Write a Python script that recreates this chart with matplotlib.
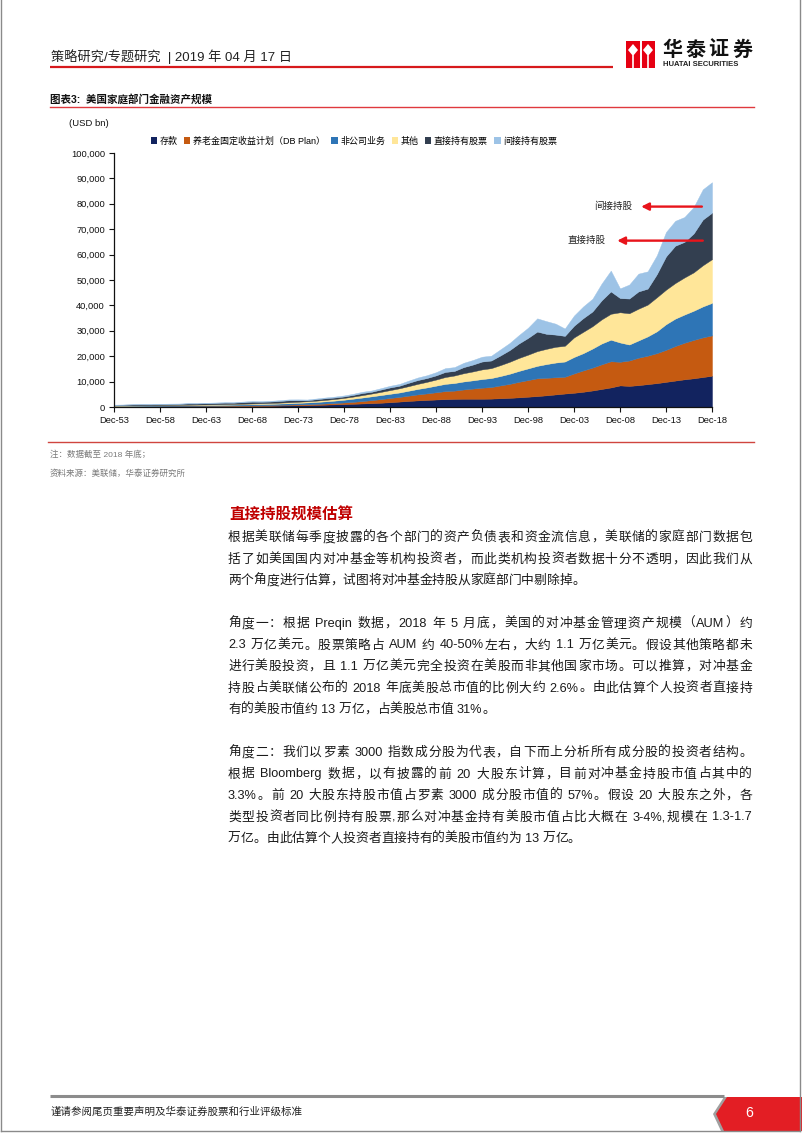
import matplotlib
matplotlib.use('Agg')
import matplotlib.pyplot as plt
import numpy as np
from matplotlib.patches import Patch, Polygon, Rectangle
from matplotlib.font_manager import FontProperties

FAMILY = ['Liberation Sans', 'Noto Sans CJK SC', 'DejaVu Sans']
plt.rcParams['font.family'] = FAMILY

W, H = 802, 1133

# ---------------------------------------------------
# data (USD bn, year-end values)
years = list(range(1953, 2019))
deposits = [160, 170, 180, 190, 200, 215, 230, 245, 265, 285,
            310, 335, 360, 385, 410, 440, 470, 510, 570, 640,
            700, 760, 840, 940, 1050, 1160, 1270, 1390, 1520, 1680,
            1880, 2130, 2380, 2600, 2780, 2950, 3100, 3200, 3250, 3250,
            3250, 3300, 3450, 3600, 3800, 4050, 4300, 4600, 4950, 5300,
            5600, 6000, 6500, 7100, 7700, 8500, 8300, 8600, 9000, 9400,
            9900, 10400, 10900, 11300, 11800, 12300]
db_plan = [100, 110, 120, 125, 130, 135, 140, 145, 150, 155,
           160, 170, 180, 185, 200, 220, 230, 250, 270, 290,
           320, 340, 380, 440, 510, 620, 760, 960, 1180, 1420,
           1670, 1820, 2070, 2350, 2570, 2850, 3150, 3250, 3650, 4000,
           4350, 4550, 5050, 5500, 6100, 6550, 7000, 6900, 6750, 6600,
           7600, 8400, 9000, 9700, 10300, 9300, 10000, 10800, 11200, 11800,
           12600, 13600, 14400, 15100, 15600, 15900]
noncorp = [220, 230, 240, 255, 270, 280, 290, 300, 310, 320,
           330, 340, 355, 380, 400, 420, 460, 490, 510, 540,
           610, 700, 770, 850, 960, 1080, 1250, 1380, 1500, 1600,
           1650, 1750, 1950, 2150, 2350, 2600, 2850, 3000, 3150, 3250,
           3400, 3550, 3700, 4000, 4300, 4600, 4900, 5400, 5800, 6000,
           6500, 6800, 7500, 8200, 8500, 7600, 6300, 6800, 7600, 8600,
           10100, 10800, 11100, 11500, 12200, 12800]
others = [100, 110, 120, 130, 130, 140, 150, 160, 175, 190,
          210, 230, 250, 265, 280, 300, 320, 340, 370, 410,
          440, 460, 510, 570, 640, 720, 820, 950, 1100, 1250,
          1450, 1650, 1800, 2000, 2200, 2400, 2700, 2950, 3250, 3500,
          3800, 3900, 4300, 4700, 5100, 5400, 5800, 6000, 6200, 6200,
          7700, 8400, 8800, 9500, 10200, 11900, 12300, 12500, 12500, 13400,
          13600, 14000, 14600, 15100, 16200, 17200]
direct_equity = [240, 280, 320, 310, 270, 370, 390, 380, 470, 410,
                 470, 515, 565, 485, 610, 720, 590, 560, 660, 760,
                 580, 390, 570, 640, 580, 570, 660, 820, 700, 900,
                 1050, 1000, 1300, 1500, 1500, 1650, 2000, 1800, 2400, 2700,
                 3100, 3000, 3800, 4600, 5700, 6600, 7700, 5900, 4800, 3900,
                 4600, 5400, 5800, 7500, 8800, 5600, 5800, 6800, 6300, 9100,
                 13100, 14700, 14000, 15300, 18000, 18300]
indirect_equity = [80, 90, 90, 100, 100, 110, 120, 130, 140, 140,
                   160, 180, 190, 200, 230, 260, 260, 270, 300, 340,
                   350, 300, 280, 310, 360, 400, 440, 500, 500, 550,
                   650, 700, 850, 1000, 1100, 1250, 1500, 1500, 1700, 1800,
                   1900, 1900, 2400, 2800, 3300, 4000, 5200, 5000, 4300, 2900,
                   4000, 4600, 5000, 6600, 8200, 3800, 5500, 7000, 6800, 7400,
                   9600, 9800, 9800, 10400, 11900, 12000]

series_labels = ['存款', '养老金固定收益计划（DB Plan）', '非公司业务', '其他',
                 '直接持有股票', '间接持有股票']
series_colors = ['#12235f', '#c55a11', '#2e75b6', '#ffe699', '#333f50', '#9dc3e6']
xtick_years = list(range(1953, 2019, 5))
xtick_labels = ['Dec-%02d' % (y % 100) for y in xtick_years]
ytick_values = list(range(0, 100001, 10000))

# ---------------------------------------------------

def pt(px):
    return px * 0.72

fig = plt.figure(figsize=(W / 100, H / 100), dpi=100)
page = fig.add_axes([0, 0, 1, 1])
page.set_xlim(0, W)
page.set_ylim(H, 0)
page.axis('off')
renderer = fig.canvas.get_renderer()

_cache = {}
def text_w(s, prop):
    key = (s, prop.get_size_in_points(), prop.get_weight())
    if key not in _cache:
        _cache[key] = renderer.get_text_width_height_descent(s, prop, ismath=False)[0]
    return _cache[key]

def advance(u, prop):
    return text_w('国' + u + '国', prop) - text_w('国国', prop)

def split_units(s):
    out, buf = [], ''
    for ch in s:
        if ord(ch) < 128 and ch != ' ':
            buf += ch
        else:
            if buf:
                out.append(buf)
                buf = ''
            out.append(ch)
    if buf:
        out.append(buf)
    return out

def put_line(s, x0, x1, y, size_px, color='#1a1a1a', justify=True, weight='normal'):
    prop = FontProperties(family=FAMILY, size=pt(size_px), weight=weight)
    units = split_units(s)
    ws = [advance(u, prop) for u in units]
    gap = 0
    if justify and len(units) > 1:
        gap = (x1 - x0 - sum(ws)) / (len(units) - 1)
    x = x0
    for u, w in zip(units, ws):
        if u != ' ':
            page.text(x, y, u, fontproperties=prop, color=color, va='center', ha='left')
        x += w + gap

# page frame
page.plot([1, 1], [0, 1131], color='#8a8a8a', lw=1)
page.plot([800, 800], [0, 1131], color='#8a8a8a', lw=1)
page.plot([1, 800], [1131, 1131], color='#8a8a8a', lw=1)

# header
page.text(51, 57, '策略研究/专题研究  | 2019 年 04 月 17 日', fontsize=pt(13.2),
          va='center', color='#222222')
page.plot([50, 613], [67, 67], color='#d7191c', lw=1.6, solid_capstyle='butt')
page.add_patch(Rectangle((626, 41), 29, 27, color='#e60012', lw=0))
for cx in (633, 648):
    page.add_patch(Polygon([[cx - 5, 50], [cx, 44], [cx + 5, 50], [cx, 56]], color='white', lw=0))
    page.plot([cx, cx], [56, 68], color='white', lw=1.2)
page.plot([640.5, 640.5], [41, 68], color='white', lw=1.4)
put_line('华泰证券', 662, 752, 50, 20, color='#111111', weight='bold')
page.text(663, 64.5, 'HUATAI SECURITIES', fontsize=pt(7.6), fontweight='bold',
          va='center', ha='left', color='#222222')

# chart title
page.text(50, 99, '图表3:  美国家庭部门金融资产规模', fontsize=pt(10.5), fontweight='bold',
          va='center', color='#111111')
page.plot([50, 754], [106.5, 106.5], color='#e0393e', lw=1)
page.text(69, 123, '(USD bn)', fontsize=pt(9.5), va='center', color='#111111')

# chart
ax = fig.add_axes([114 / W, 1 - 407 / H, (712 - 114) / W, (407 - 153) / H])
x = np.array(years)
layers = [deposits, db_plan, noncorp, others, direct_equity, indirect_equity]
base = np.zeros(len(years))
for vals, col in zip(layers, series_colors):
    top = base + np.array(vals)
    ax.fill_between(x, base, top, facecolor=col, edgecolor=col, lw=0.3)
    base = top
ax.set_xlim(1953, 2018)
ax.set_ylim(0, 100000)
ax.set_xticks(xtick_years)
ax.set_xticklabels(xtick_labels)
ax.set_yticks(ytick_values)
ax.set_yticklabels(['{:,}'.format(v) for v in ytick_values])
for s in ('top', 'right'):
    ax.spines[s].set_visible(False)
for s in ('left', 'bottom'):
    ax.spines[s].set_linewidth(0.9)
    ax.spines[s].set_color('#111111')
ax.tick_params(direction='out', length=3.5, width=0.8, labelsize=pt(9.4), pad=3,
               colors='#111111')
ax.patch.set_alpha(0)

handles = [Patch(facecolor=c, edgecolor='none') for c in series_colors]
fig.legend(handles, series_labels, loc='center', bbox_to_anchor=(354 / W, 1 - 141 / H),
           ncol=6, frameon=False, fontsize=pt(9), handlelength=0.7, handleheight=0.7,
           handletextpad=0.3, columnspacing=0.7, borderaxespad=0)

# arrows
ax.annotate('', xy=(2010.3, 78900), xytext=(2016.9, 78900), annotation_clip=False,
            arrowprops=dict(arrowstyle='-|>', color='#e8141b', lw=1.7, mutation_scale=11,
                            shrinkA=0, shrinkB=0))
ax.annotate('', xy=(2007.7, 65500), xytext=(2017.0, 65500), annotation_clip=False,
            arrowprops=dict(arrowstyle='-|>', color='#e8141b', lw=1.7, mutation_scale=11,
                            shrinkA=0, shrinkB=0))
ax.text(2007.3, 78900, '间接持股', fontsize=pt(9.5), ha='center', va='center', color='#222222')
ax.text(2004.4, 65500, '直接持股', fontsize=pt(9.5), ha='center', va='center', color='#222222')

# notes
page.plot([48, 754], [442, 442], color='#d0453f', lw=1)
page.text(50, 455, '注：数据截至 2018 年底；', fontsize=pt(8.5), va='center', color='#7a7a7a')
page.text(50, 474, '资料来源：美联储，华泰证券研究所', fontsize=pt(8.5), va='center', color='#7a7a7a')

# body text
page.text(229, 515, '直接持股规模估算', fontsize=pt(15.5), fontweight='bold',
          va='center', color='#c00000')
body = [
    ('根据美联储每季度披露的各个部门的资产负债表和资金流信息，美联储的家庭部门数据包', True),
    ('括了如美国国内对冲基金等机构投资者，而此类机构投资者数据十分不透明，因此我们从', True),
    ('两个角度进行估算，试图将对冲基金持股从家庭部门中剔除掉。', False),
    None,
    ('角度一：根据 Preqin 数据，2018 年 5 月底，美国的对冲基金管理资产规模（AUM）约', True),
    ('2.3 万亿美元。股票策略占 AUM 约 40-50%左右，大约 1.1 万亿美元。假设其他策略都未', True),
    ('进行美股投资，且 1.1 万亿美元完全投资在美股而非其他国家市场。可以推算，对冲基金', True),
    ('持股占美联储公布的 2018 年底美股总市值的比例大约 2.6%。由此估算个人投资者直接持', True),
    ('有的美股市值约 13 万亿，占美股总市值 31%。', False),
    None,
    ('角度二：我们以罗素 3000 指数成分股为代表，自下而上分析所有成分股的投资者结构。', True),
    ('根据 Bloomberg 数据，以有披露的前 20 大股东计算，目前对冲基金持股市值占其中的', True),
    ('3.3%。前 20 大股东持股市值占罗素 3000 成分股市值的 57%。假设 20 大股东之外，各', True),
    ('类型投资者同比例持有股票,那么对冲基金持有美股市值占比大概在 3-4%,规模在 1.3-1.7', True),
    ('万亿。由此估算个人投资者直接持有的美股市值约为 13 万亿。', False),
]
y = 538
for item in body:
    if item is not None:
        put_line(item[0], 228, 752, y, 12.8, justify=item[1])
    y += 21.5

# footer
page.plot([50, 724], [1096, 1096], color='#8c8c8c', lw=2.2, solid_capstyle='butt')
page.add_patch(Polygon([[724, 1097], [802, 1097], [802, 1131], [721, 1131], [713, 1114]],
                       color='#a0a0a0', lw=0))
page.add_patch(Polygon([[727, 1097], [802, 1097], [802, 1131], [724, 1131], [716, 1114]],
                       color='#e31e24', lw=0))
page.text(749, 1113, '6', fontsize=pt(14), va='center', ha='center', color='white')
page.text(51, 1112, '谨请参阅尾页重要声明及华泰证券股票和行业评级标准', fontsize=pt(10.5),
          va='center', color='#222222')

fig.savefig('out.png', dpi=100)
